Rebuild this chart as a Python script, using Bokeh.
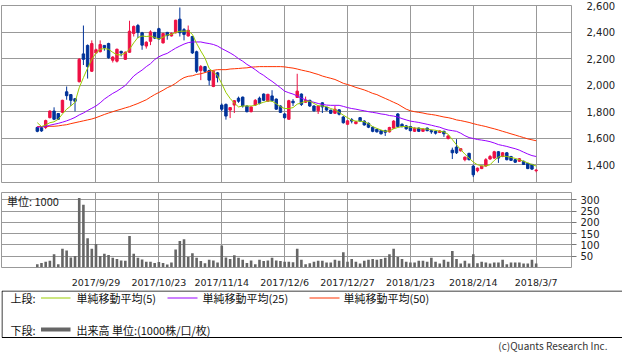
from bokeh.plotting import figure
from bokeh.models import ColumnDataSource, Range1d, FixedTicker, NumeralTickFormatter, Label
from bokeh.layouts import column
from bokeh.embed import file_html
from bokeh.resources import INLINE
from bokeh.core.properties import value

# ---------------- data ----------------
opens = [1681, 1679, 1681, 1755, 1805, 1786, 1795, 1950, 1929, 1898,
         2026, 2236, 2300, 2105, 2243, 2252, 2300, 2314, 2188, 2181,
         2255, 2195, 2248, 2390, 2450, 2395, 2295, 2331, 2398, 2426,
         2319, 2398, 2371, 2395, 2498, 2419, 2371, 2367, 2252, 2110,
         2140, 2110, 1990, 2093, 1850, 1855, 1812, 1850, 1902, 1910,
         1843, 1800, 1850, 1902, 1933, 1879, 1919, 1895, 1843, 1783,
         1743, 1879, 1907, 1933, 1871, 1886, 1843, 1807, 1867, 1833,
         1812, 1788, 1814, 1760, 1705, 1740, 1710, 1755, 1729, 1712,
         1683, 1667, 1657, 1657, 1648, 1676, 1783, 1705, 1693, 1688,
         1652, 1676, 1652, 1676, 1657, 1652, 1643, 1652, 1598, 1510,
         1533, 1505, 1438, 1486, 1390, 1355, 1371, 1390, 1443, 1450,
         1498, 1462, 1490, 1462, 1438, 1426, 1426, 1410, 1402, 1355]
closes = [1652, 1655, 1733, 1805, 1743, 1743, 1886, 1921, 1886, 1879,
          2195, 2195, 2140, 2314, 2267, 2307, 2283, 2207, 2212, 2271,
          2243, 2248, 2407, 2443, 2398, 2302, 2324, 2402, 2355, 2348,
          2390, 2374, 2390, 2490, 2395, 2383, 2414, 2243, 2105, 2140,
          2105, 2038, 2105, 2057, 1819, 1767, 1831, 1883, 1879, 1843,
          1800, 1836, 1886, 1862, 1886, 1931, 1883, 1819, 1795, 1755,
          1883, 1867, 1955, 1855, 1886, 1843, 1807, 1843, 1836, 1812,
          1788, 1819, 1781, 1717, 1731, 1729, 1724, 1729, 1700, 1683,
          1652, 1648, 1633, 1645, 1681, 1729, 1688, 1688, 1671, 1657,
          1676, 1652, 1669, 1657, 1648, 1638, 1655, 1633, 1617, 1490,
          1490, 1521, 1457, 1438, 1324, 1374, 1390, 1438, 1462, 1498,
          1450, 1490, 1438, 1433, 1419, 1445, 1402, 1371, 1367, 1360]
highs = [1688, 1686, 1740, 1810, 1833, 1790, 1890, 1990, 1933, 1902,
         2205, 2450, 2307, 2338, 2276, 2338, 2302, 2320, 2219, 2276,
         2260, 2255, 2486, 2450, 2462, 2402, 2331, 2414, 2402, 2433,
         2395, 2402, 2398, 2493, 2586, 2431, 2450, 2371, 2260, 2152,
         2145, 2117, 2110, 2100, 1862, 1862, 1833, 1886, 1914, 1914,
         1848, 1840, 1895, 1914, 1938, 1935, 1962, 1900, 1848, 1790,
         1890, 1895, 2086, 1938, 1914, 1890, 1848, 1848, 1871, 1836,
         1814, 1843, 1819, 1767, 1736, 1752, 1729, 1760, 1736, 1719,
         1688, 1671, 1662, 1664, 1686, 1736, 1790, 1712, 1700, 1693,
         1681, 1681, 1676, 1681, 1664, 1657, 1660, 1657, 1624, 1529,
         1593, 1526, 1462, 1490, 1398, 1379, 1393, 1450, 1474, 1505,
         1502, 1495, 1495, 1467, 1443, 1450, 1431, 1414, 1407, 1367]
lows = [1645, 1648, 1669, 1750, 1736, 1738, 1790, 1890, 1843, 1802,
        2021, 2152, 2050, 2100, 2236, 2248, 2260, 2200, 2171, 2171,
        2217, 2190, 2245, 2367, 2355, 2267, 2276, 2302, 2348, 2343,
        2314, 2343, 2367, 2390, 2367, 2338, 2367, 2236, 2093, 2038,
        2093, 1998, 1985, 2021, 1802, 1740, 1752, 1790, 1867, 1831,
        1795, 1795, 1843, 1855, 1880, 1875, 1876, 1814, 1790, 1748,
        1740, 1843, 1905, 1843, 1867, 1836, 1800, 1783, 1790, 1807,
        1783, 1783, 1772, 1710, 1700, 1712, 1705, 1724, 1695, 1676,
        1645, 1643, 1628, 1617, 1643, 1671, 1683, 1681, 1664, 1652,
        1648, 1648, 1648, 1652, 1633, 1628, 1640, 1610, 1590, 1443,
        1481, 1500, 1426, 1433, 1307, 1343, 1367, 1386, 1438, 1445,
        1414, 1457, 1433, 1428, 1414, 1421, 1398, 1367, 1360, 1343]
volumes = [14, 19, 25, 29, 58, 14, 83, 75, 43, 50,
           308, 279, 129, 83, 104, 50, 60, 55, 42, 37,
           30, 29, 139, 60, 42, 35, 25, 25, 19, 23,
           19, 12, 21, 79, 117, 125, 46, 62, 42, 28,
           18, 33, 30, 21, 97, 43, 37, 54, 42, 33,
           19, 30, 14, 33, 28, 30, 42, 30, 28, 25,
           25, 22, 83, 33, 14, 18, 25, 29, 29, 21,
           21, 33, 29, 67, 25, 37, 25, 17, 29, 33,
           37, 33, 37, 42, 58, 83, 46, 37, 25, 21,
           21, 29, 29, 25, 42, 25, 17, 33, 25, 73,
           37, 17, 29, 17, 58, 18, 25, 21, 17, 21,
           21, 33, 14, 21, 21, 21, 17, 17, 33, 17]
ma5 = [1717, 1688, 1700, 1717, 1724, 1743, 1783, 1819, 1843, 1871,
       1981, 2057, 2129, 2195, 2243, 2271, 2276, 2271, 2248, 2229,
       2229, 2243, 2271, 2319, 2360, 2371, 2367, 2371, 2360, 2348,
       2362, 2379, 2383, 2398, 2407, 2407, 2410, 2383, 2315, 2258,
       2205, 2126, 2100, 2072, 2012, 1945, 1900, 1865, 1836, 1843,
       1843, 1843, 1848, 1862, 1871, 1881, 1879, 1860, 1838, 1824,
       1824, 1831, 1857, 1867, 1879, 1879, 1862, 1845, 1843, 1838,
       1824, 1814, 1795, 1774, 1755, 1736, 1729, 1729, 1724, 1710,
       1688, 1674, 1662, 1652, 1655, 1671, 1681, 1688, 1688, 1683,
       1676, 1676, 1671, 1669, 1664, 1660, 1652, 1648, 1630, 1590,
       1550, 1515, 1480, 1450, 1420, 1400, 1391, 1391, 1400, 1432,
       1458, 1465, 1462, 1455, 1448, 1438, 1426, 1414, 1402, 1390]
ma25 = [1683, 1686, 1688, 1698, 1705, 1712, 1721, 1731, 1743, 1757,
        1776, 1790, 1809, 1826, 1843, 1867, 1895, 1917, 1938, 1955,
        1976, 1998, 2033, 2069, 2093, 2114, 2140, 2162, 2193, 2214,
        2229, 2240, 2260, 2279, 2295, 2310, 2321, 2326, 2326, 2326,
        2319, 2314, 2307, 2295, 2276, 2260, 2243, 2224, 2200, 2181,
        2157, 2138, 2117, 2093, 2074, 2050, 2029, 2005, 1981, 1955,
        1943, 1933, 1919, 1902, 1890, 1879, 1871, 1862, 1855, 1850,
        1848, 1848, 1848, 1840, 1831, 1824, 1819, 1812, 1807, 1800,
        1795, 1790, 1783, 1779, 1771, 1767, 1760, 1748, 1738, 1729,
        1724, 1719, 1712, 1705, 1698, 1690, 1683, 1671, 1662, 1657,
        1652, 1638, 1619, 1605, 1598, 1590, 1586, 1581, 1574, 1564,
        1552, 1545, 1538, 1529, 1521, 1510, 1495, 1481, 1469, 1462]
ma50 = [1688, 1688, 1688, 1690, 1690, 1693, 1698, 1702, 1710, 1717,
        1724, 1731, 1738, 1745, 1755, 1767, 1779, 1790, 1800, 1810,
        1819, 1829, 1838, 1850, 1862, 1876, 1890, 1910, 1929, 1945,
        1962, 1981, 1995, 2014, 2038, 2057, 2067, 2071, 2081, 2086,
        2095, 2105, 2112, 2117, 2117, 2117, 2122, 2124, 2126, 2129,
        2131, 2136, 2138, 2140, 2140, 2140, 2140, 2140, 2140, 2138,
        2133, 2129, 2122, 2114, 2107, 2100, 2090, 2081, 2069, 2060,
        2052, 2043, 2029, 2014, 2005, 1995, 1983, 1974, 1964, 1952,
        1938, 1929, 1914, 1900, 1886, 1871, 1857, 1838, 1819, 1807,
        1800, 1795, 1790, 1783, 1779, 1774, 1767, 1760, 1755, 1748,
        1738, 1733, 1726, 1719, 1710, 1702, 1695, 1688, 1679, 1671,
        1662, 1652, 1643, 1633, 1624, 1614, 1605, 1595, 1588, 1581]
tick_index = [14, 29, 44, 59, 74, 89, 104, 119]
tick_labels = ["2017/9/29", "2017/10/23", "2017/11/14", "2017/12/6",
               "2017/12/27", "2018/1/23", "2018/2/14", "2018/3/7"]
price_ticks = [1400, 1600, 1800, 2000, 2200, 2400, 2600]
volume_ticks = [50, 100, 150, 200, 250, 300]

# ---------------- styles ----------------
UP = "#ee1144"
DOWN = "#003399"
GRID = "#999999"
C5, C25, C50 = "#99cc00", "#9900ff", "#ff3300"
VOLC = "#666666"
JP = "Noto Sans CJK JP"
XMIN, XMAX = -8.54, 127.43

idx = list(range(len(closes)))
src = ColumnDataSource(dict(
    x=idx, high=highs, low=lows,
    btop=[max(o, c) for o, c in zip(opens, closes)],
    bbot=[min(o, c) for o, c in zip(opens, closes)],
    color=[UP if c >= o else DOWN for o, c in zip(opens, closes)],
    vol=volumes, ma5=ma5, ma25=ma25, ma50=ma50,
))

# ---------------- price chart ----------------
p = figure(frame_width=570, frame_height=177, x_range=Range1d(XMIN, XMAX),
           y_range=Range1d(1266, 2601), output_backend="svg", toolbar_location=None,
           y_axis_location="right", x_axis_location=None,
           min_border_left=1, min_border_right=51, min_border_top=5, min_border_bottom=6)
p.outline_line_color = GRID
p.xgrid.ticker = FixedTicker(ticks=tick_index)
for g in (p.xgrid, p.ygrid):
    g.grid_line_color = GRID
    g.grid_line_width = 1
p.yaxis.ticker = FixedTicker(ticks=price_ticks)
p.yaxis.formatter = NumeralTickFormatter(format="0,0")
p.yaxis.axis_line_color = None
p.yaxis.major_tick_line_color = None
p.yaxis.minor_tick_line_color = None
p.yaxis.major_label_standoff = 9
p.yaxis.major_label_text_font = "DejaVu Sans"
p.yaxis.major_label_text_font_size = "10px"
p.yaxis.major_label_text_color = "#222222"

p.segment(x0="x", y0="low", x1="x", y1="high", color="color", line_width=1, source=src)
p.vbar(x="x", width=0.58, top="btop", bottom="bbot", fill_color="color",
       line_color="color", line_width=1, source=src)
p.line("x", "ma50", color=C50, line_width=1, source=src)
p.line("x", "ma25", color=C25, line_width=1, source=src)
p.line("x", "ma5", color=C5, line_width=1, source=src)

# ---------------- volume chart ----------------
q = figure(frame_width=570, frame_height=75, x_range=p.x_range,
           y_range=Range1d(-1, 333), output_backend="svg", toolbar_location=None,
           y_axis_location="right",
           min_border_left=1, min_border_right=51, min_border_top=4, min_border_bottom=16)
q.outline_line_color = GRID
for g in (q.xgrid, q.ygrid):
    g.grid_line_color = GRID
    g.grid_line_width = 1
q.xaxis.ticker = FixedTicker(ticks=tick_index)
q.xaxis.major_label_overrides = {t: s for t, s in zip(tick_index, tick_labels)}
q.xaxis.axis_line_color = None
q.xaxis.major_tick_line_color = None
q.xaxis.minor_tick_line_color = None
q.xaxis.major_label_standoff = 3
q.xaxis.major_label_text_font = "DejaVu Sans"
q.xaxis.major_label_text_font_size = "9.5px"
q.xaxis.major_label_text_color = "#222222"
q.yaxis.ticker = FixedTicker(ticks=volume_ticks)
q.yaxis.axis_line_color = None
q.yaxis.major_tick_out = 5
q.yaxis.major_tick_in = 0
q.yaxis.major_tick_line_color = "#777777"
q.yaxis.minor_tick_line_color = None
q.yaxis.major_label_standoff = 4
q.yaxis.major_label_text_font = "DejaVu Sans"
q.yaxis.major_label_text_font_size = "10px"
q.yaxis.major_label_text_color = "#222222"

q.vbar(x="x", width=0.62, top="vol", bottom=0, fill_color=VOLC, line_color=None, source=src)
q.add_layout(Label(x=XMIN + 1.3, y=295, text="単位: 1000", text_font=JP,
                   text_font_size="11px", text_baseline="middle", text_color="#222222"))

# ---------------- legend / footer ----------------
r = figure(frame_width=622, frame_height=63, x_range=Range1d(0, 622), y_range=Range1d(63, 0),
           output_backend="svg", toolbar_location=None, x_axis_location=None,
           y_axis_location=None, min_border=0)
r.outline_line_color = None
r.grid.visible = False
r.quad(left=[0.5], right=[621.5], top=[0.5], bottom=[47], fill_color=None,
       line_color="black", line_width=1)
r.segment(x0=[39.5, 166, 308], y0=[7.5, 7.5, 7.5], x1=[69, 196, 338], y1=[7.5, 7.5, 7.5],
          color=[C5, C25, C50], line_width=1)
r.segment(x0=[39.5], y0=[39], x1=[69], y1=[39], color=VOLC, line_width=4)
r.text(x=[9, 75, 201, 342, 9, 75], y=[7.5, 7.5, 7.5, 7.5, 39, 39],
       text=["上段:", "単純移動平均(5)", "単純移動平均(25)", "単純移動平均(50)",
             "下段:", "出来高 単位:(1000株/口/枚)"],
       text_font=value(JP), text_font_size="11px", text_baseline="middle",
       text_color="#111111")
r.text(x=[606], y=[55], text=["(c)Quants Research Inc."], text_font=value(JP),
       text_font_size="10px", text_baseline="middle", text_align="right",
       text_color="#333333")

layout = column(p, q, r)
open("out.html", "w").write(file_html(layout, INLINE))
